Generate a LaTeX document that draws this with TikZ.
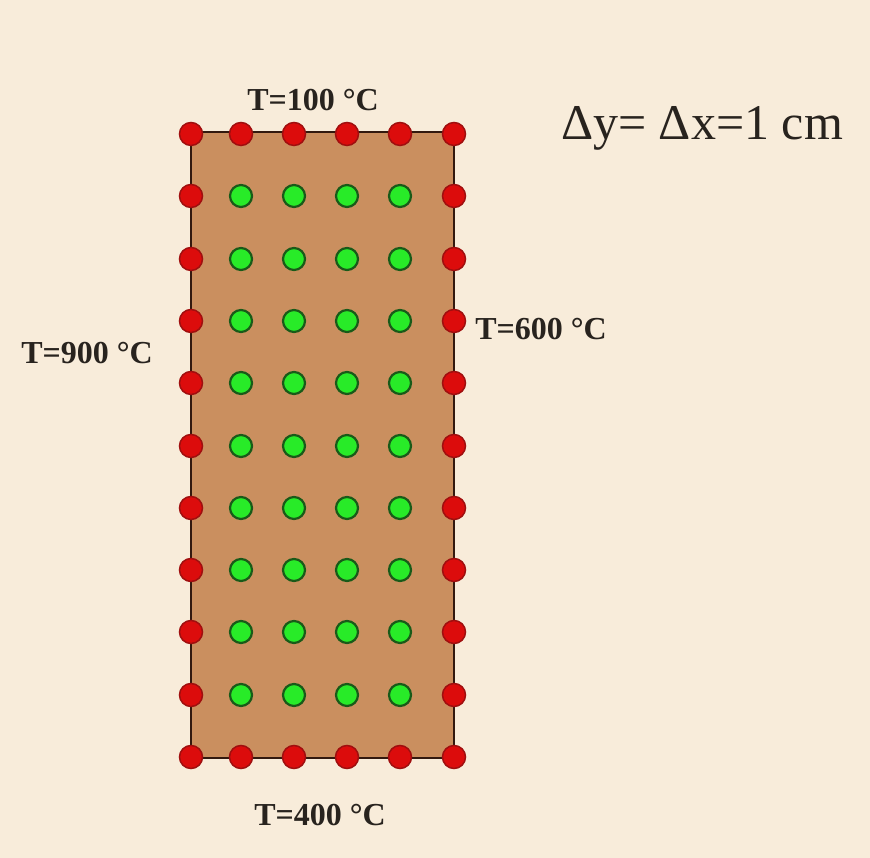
\documentclass[tikz,border=0pt]{standalone}
\usepackage{fontspec}
\setmainfont{Liberation Serif}
\begin{document}
\begin{tikzpicture}[x=1pt,y=1pt,
  bg/.style={fill={rgb,255:red,248;green,236;blue,218}},
  plate/.style={fill={rgb,255:red,202;green,143;blue,95},draw={rgb,255:red,50;green,25;blue,15},line width=2pt},
  bnode/.style={circle,inner sep=0pt,minimum size=23pt,fill={rgb,255:red,220;green,12;blue,12},draw={rgb,255:red,160;green,15;blue,15},line width=1.5pt},
  inode/.style={circle,inner sep=0pt,minimum size=22pt,fill={rgb,255:red,40;green,235;blue,40},draw={rgb,255:red,25;green,90;blue,25},line width=2.2pt},
  lab/.style={font=\fontsize{32}{36}\selectfont\bfseries,text={rgb,255:red,40;green,35;blue,30},inner sep=0pt}]
\path[bg] (0,0) rectangle (870,858);
\useasboundingbox (0,0) rectangle (870,858);
\path[plate] (191,726) rectangle (454,100);
\foreach \i/\x in {1/191,2/241,3/294,4/347,5/400,6/454}{
  \foreach \j/\y in {1/134,2/196,3/259,4/321,5/383,6/446,7/508,8/570,9/632,10/695,11/757}{
    \pgfmathtruncatemacro{\isb}{(\i==1 || \i==6 || \j==1 || \j==11) ? 1 : 0}
    \ifnum\isb=1
      \node[bnode] (d-\i-\j) at (\x,858-\y) {};
    \else
      \node[inode] (d-\i-\j) at (\x,858-\y) {};
    \fi
  }
}
\node[lab] (ttop) at (313,758) {T=100 °C};
\node[lab] (tbot) at (320,43) {T=400 °C};
\node[lab] (tleft) at (87,505) {T=900 °C};
\node[lab] (tright) at (541,529) {T=600 °C};
\node[font=\fontsize{50}{56}\selectfont,text={rgb,255:red,40;green,35;blue,30},inner sep=0pt] (delta) at (702,730) {Δy= Δx=1 cm};
\end{tikzpicture}
\end{document}
